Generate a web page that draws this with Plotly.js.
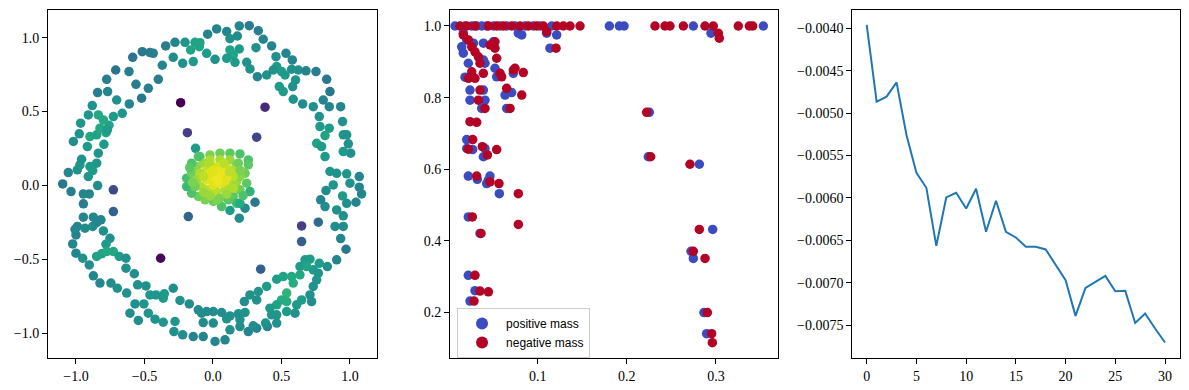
<!DOCTYPE html>
<html>
<head>
<meta charset="utf-8">
<script src="https://cdn.plot.ly/plotly-3.0.1.min.js"></script>
<style>html,body{margin:0;padding:0;background:#fff;}#chart{width:1189px;height:390px;}</style>
</head>
<body>
<div id="chart"></div>
<script>
// ---- Panel 1: ring / core / outliers (x, y, colour value) ----
const ringX = [0.027,-0.039,0.100,0.192,0.265,0.331,0.178,0.124,0.367,0.314,0.428,-0.095,-0.131,-0.204,-0.100,-0.163,-0.046,-0.144,-0.221,-0.277,-0.345,-0.290,-0.370,-0.436,-0.460,-0.516,-0.586,-0.399,-0.472,-0.521,-0.611,-0.613,-0.710,-0.776,-0.842,-0.769,-0.703,-0.562,-0.662,-0.881,0.015,0.124,0.192,0.148,0.100,0.161,0.246,0.270,0.324,0.392,0.460,0.533,0.579,0.465,0.501,0.440,0.526,0.484,0.513,0.582,0.603,0.574,0.623,0.679,0.752,0.830,0.854,0.805,0.732,0.655,0.586,0.849,0.932,0.776,0.946,0.849,0.951,0.988,1.005,0.951,0.976,0.781,0.818,0.757,0.793,0.818,0.854,0.903,0.976,1.068,1.0,1.068,1.085,1.044,0.976,0.946,0.878,0.825,0.786,0.818,0.903,0.951,0.891,0.951,0.932,0.971,0.903,0.835,0.776,0.708,0.672,0.635,0.732,0.769,0.757,0.732,0.708,0.720,0.647,0.599,0.538,0.465,0.397,0.319,0.258,0.197,0.124,0.088,0.015,-0.071,-0.144,-0.221,-0.285,-0.277,-0.363,-0.423,-0.472,-0.545,-0.606,-0.569,-0.504,-0.460,-0.363,-0.355,-0.290,-0.241,-0.173,-0.107,-0.046,0.002,0.063,0.124,0.185,0.234,0.229,0.270,0.331,0.319,0.392,0.465,0.513,0.574,0.635,0.684,0.586,0.538,0.501,0.465,0.416,0.428,0.538,0.611,-0.083,-0.071,0.002,0.100,0.197,0.294,0.384,0.465,-0.630,-0.698,-0.745,-0.825,-0.873,-0.903,-0.951,-1.0,-1.024,-1.0,-1.007,-0.990,-0.934,-0.878,-0.849,-0.800,-0.752,-0.781,-0.813,-0.849,-0.776,-0.727,-0.684,-0.635,-0.635,-0.574,-0.550,-0.489,-0.416,-0.946,-0.873,-0.818,-1.097,-1.036,-1.056,-0.990,-0.971,-0.959,-1.019,-0.976,-0.966,-0.910,-0.837,-0.800,-0.727,-0.759,-0.781,-0.796,-0.837,-0.849,-0.898,-0.910,-0.878,-0.946,-0.903,-0.842,-0.946,-0.917,-0.898,-0.849,-0.825,-0.771];
const ringY = [1.059,1.023,1.041,1.079,1.081,1.047,1.011,0.993,0.989,0.932,0.944,0.966,0.968,0.968,0.939,0.917,0.894,0.838,0.826,0.968,0.944,0.867,0.813,0.894,0.899,0.905,0.867,0.718,0.657,0.590,0.551,0.770,0.781,0.718,0.628,0.635,0.578,0.684,0.488,0.540,0.853,0.917,0.923,0.883,0.860,0.833,0.833,0.788,0.736,0.747,0.871,0.894,0.849,0.804,0.770,0.781,0.747,0.669,0.635,0.669,0.714,0.786,0.781,0.775,0.770,0.718,0.635,0.578,0.533,0.551,0.583,0.533,0.533,0.466,0.432,0.387,0.342,0.281,0.218,0.229,0.342,0.398,0.337,0.285,0.263,0.195,0.094,0.082,0.078,0.060,0.015,-0.012,-0.058,-0.114,-0.121,-0.071,0.003,-0.035,-0.098,-0.143,-0.166,-0.206,-0.278,-0.278,-0.360,-0.432,-0.504,-0.549,-0.527,-0.499,-0.504,-0.549,-0.571,-0.594,-0.639,-0.684,-0.741,-0.786,-0.775,-0.865,-0.854,-0.932,-0.955,-0.966,-0.989,-0.955,-0.977,-1.045,-1.056,-1.023,-1.023,-1.011,-0.989,-0.921,-0.926,-0.905,-0.865,-0.914,-0.865,-0.802,-0.802,-0.741,-0.763,-0.734,-0.696,-0.779,-0.802,-0.842,-0.854,-0.854,-0.860,-0.883,-0.869,-0.860,-0.786,-0.741,-0.718,-0.775,-0.684,-0.635,-0.617,-0.617,-0.605,-0.549,-0.661,-0.729,-0.775,-0.808,-0.831,-0.876,-0.786,-0.808,-0.865,-0.928,-0.932,-0.903,-0.910,-0.950,-0.932,-0.876,-0.729,-0.696,-0.661,-0.661,-0.612,-0.538,-0.493,-0.459,-0.396,-0.335,-0.297,-0.278,-0.290,-0.278,-0.252,-0.308,-0.358,-0.398,-0.463,-0.481,-0.448,-0.448,-0.481,-0.493,-0.560,-0.598,-0.673,-0.680,-0.741,-0.215,-0.215,-0.233,0.010,-0.042,0.087,0.105,0.139,0.177,0.297,0.349,0.421,0.477,0.477,0.443,0.466,0.407,0.357,0.278,0.218,0.150,0.127,0.060,0.100,-0.058,-0.058,-0.001,-0.125,0.263,0.330,0.342,0.387,0.375];
const ringC = [.45,.45,.45,.45,.42,.42,.48,.5,.45,.5,.45,.58,.58,.52,.58,.58,.55,.55,.5,.45,.42,.48,.45,.42,.42,.40,.38,.42,.42,.40,.45,.42,.38,.42,.42,.45,.5,.42,.52,.5,.5,.58,.55,.58,.55,.55,.5,.5,.45,.5,.5,.45,.45,.55,.55,.5,.55,.55,.55,.5,.52,.5,.5,.45,.42,.4,.4,.45,.5,.48,.5,.45,.45,.5,.5,.55,.52,.5,.48,.55,.5,.55,.58,.58,.55,.55,.52,.5,.52,.45,.5,.45,.45,.45,.5,.55,.52,.48,.45,.48,.5,.5,.48,.48,.45,.4,.45,.5,.55,.55,.55,.55,.55,.52,.52,.5,.5,.48,.55,.5,.55,.5,.45,.45,.45,.48,.5,.45,.45,.45,.45,.48,.5,.52,.52,.52,.52,.48,.48,.5,.52,.52,.55,.55,.48,.5,.48,.48,.48,.48,.48,.5,.5,.5,.48,.5,.52,.5,.55,.55,.58,.6,.6,.58,.62,.65,.62,.58,.55,.52,.62,.55,.48,.48,.48,.5,.5,.48,.5,.52,.5,.5,.48,.45,.45,.48,.5,.45,.45,.45,.45,.45,.48,.48,.45,.5,.5,.55,.58,.58,.6,.6,.55,.5,.5,.48,.5,.5,.52,.45,.45,.45,.4,.42,.45,.5,.52,.5,.48,.5,.52,.52,.6,.6,.55,.58,.58,.55,.52,.52,.55,.52,.55,.45,.45,.48,.42,.55,.6,.58,.6,.55];

const outX = [-0.236,0.380,-0.187,0.319,-0.727,-0.727,-0.180,-0.382,0.348,0.647,0.647,0.769,0.307,0.234,0.192,0.124,-0.127];
const outY = [0.560,0.529,0.357,0.326,-0.030,-0.177,-0.211,-0.493,-0.567,-0.274,-0.380,-0.249,-0.114,-0.154,-0.222,-0.170,0.251];
const outC = [0.0,0.12,0.18,0.2,0.22,0.3,0.32,0.02,0.3,0.18,0.3,0.35,0.4,0.48,0.48,0.55,0.55];

const coreX = [-0.095,-0.022,0.051,0.124,0.197,0.258,0.258,0.234,0.246,0.270,0.197,0.148,0.173,0.063,0.002,-0.058,-0.107,-0.156,-0.192,-0.192,-0.156,-0.119,-0.071,-0.022,0.051,0.124,0.173,0.148,0.100,0.051,0.002,-0.046,-0.095,-0.119,-0.083,-0.034,0.027,0.088,0.124,0.173,0.197,0.148,0.100,0.051,0.002,-0.046,0.002,0.063,0.027,0.080,-0.022,-0.066,0.051,0.112,0.185,-0.131,-0.107,-0.156,0.197,0.220,-0.170,0.030,-0.150,0.200,0.100,-0.020,0.150,-0.030,0.080,0.120,-0.070,0.090,0.040,0.000];
const coreY = [0.195,0.206,0.218,0.218,0.213,0.172,0.139,0.082,0.015,-0.042,-0.030,-0.075,-0.121,-0.143,-0.109,-0.098,-0.075,-0.053,-0.008,0.049,0.082,0.127,0.150,0.172,0.172,0.172,0.139,0.105,0.116,0.127,0.127,0.105,0.082,0.037,-0.008,-0.030,-0.042,-0.030,0.003,0.026,0.060,0.060,0.060,0.060,0.060,0.037,0.003,0.015,0.094,0.082,0.082,-0.048,-0.087,-0.098,0.150,-0.008,0.195,0.150,-0.121,-0.070,0.120,-0.100,0.020,0.100,-0.060,-0.070,-0.020,0.150,0.150,0.090,0.060,0.030,0.030,0.100];
const coreC = [.75,.8,.78,.75,.72,.72,.75,.78,.75,.65,.78,.75,.68,.72,.78,.8,.78,.72,.68,.7,.78,.82,.85,.88,.88,.85,.82,.88,.92,.95,.93,.92,.88,.85,.88,.9,.9,.88,.88,.85,.82,.9,.98,1.0,.98,.95,.95,.95,.97,.97,.95,.85,.8,.75,.78,.78,.72,.72,.62,.72,.75,.8,.8,.8,.85,.85,.88,.88,.9,.9,.9,.95,.98,.95];

// ---- Panel 2: positive / negative mass ----
const posX = [0.0073,0.0185,0.0260,0.0316,0.0372,0.0428,0.0503,0.0578,0.0652,0.0746,0.0858,0.0951,0.1026,0.1157,0.1804,0.1916,0.1969,0.2746,0.3531,0.0166,0.0204,0.0148,0.0166,0.0279,0.0391,0.0222,0.0185,0.0241,0.0241,0.0391,0.0409,0.0391,0.0409,0.0521,0.0540,0.0503,0.0372,0.0652,0.0634,0.0708,0.0727,0.0821,0.1101,0.1213,0.1138,0.0204,0.0204,0.0271,0.0409,0.0222,0.0323,0.0428,0.0465,0.0447,0.0570,0.0222,0.0353,0.0222,0.0297,0.0241,0.0391,0.2252,0.2241,0.2813,0.2720,0.2746,0.2963,0.2865,0.2895,0.2944,0.0783];
const posY = [1.0,1.0,1.0,1.0,1.0,1.0,1.0,1.0,1.0,1.0,1.0,1.0,1.0,1.0,1.0,1.0,1.0,1.0,1.0,0.980,0.961,0.942,0.924,0.952,0.952,0.896,0.857,0.821,0.793,0.905,0.896,0.821,0.793,0.882,0.858,0.956,0.770,0.770,0.807,0.814,0.868,0.975,0.980,0.975,0.938,0.683,0.658,0.655,0.658,0.581,0.572,0.560,0.581,0.570,0.532,0.467,0.421,0.304,0.261,0.232,0.635,0.759,0.635,0.614,0.371,0.351,0.432,0.200,0.141,0.980,0.980];
const negX = [0.0129,0.0204,0.0297,0.0447,0.0540,0.0615,0.0708,0.0802,0.0895,0.0989,0.1064,0.1213,0.1288,0.1363,0.1475,0.2316,0.2428,0.2484,0.2634,0.2877,0.2970,0.3250,0.3374,0.3411,0.0166,0.0222,0.0260,0.0297,0.0335,0.0353,0.0260,0.0222,0.0297,0.0391,0.0465,0.0521,0.0540,0.0578,0.0596,0.0521,0.0353,0.0335,0.0409,0.0652,0.0746,0.0839,0.0821,0.0690,0.0241,0.0316,0.0271,0.0222,0.0379,0.0436,0.0540,0.0316,0.0465,0.0566,0.0783,0.0783,0.0267,0.0364,0.0297,0.0353,0.0447,0.0286,0.2222,0.2267,0.2708,0.2813,0.2746,0.2877,0.2903,0.2951,0.2959,0.3026,0.3037,0.1206,0.1101,0.0727];
const negY = [1.0,1.0,1.0,1.0,1.0,1.0,1.0,1.0,1.0,1.0,1.0,1.0,1.0,1.0,1.0,1.0,1.0,1.0,1.0,1.0,1.0,1.0,1.0,1.0,0.975,0.961,0.942,0.928,0.914,0.896,0.872,0.854,0.854,0.868,0.947,0.938,0.910,0.868,0.858,0.956,0.821,0.793,0.770,0.826,0.882,0.870,0.807,0.770,0.733,0.731,0.683,0.656,0.663,0.640,0.655,0.581,0.565,0.560,0.532,0.446,0.467,0.421,0.304,0.260,0.258,0.232,0.759,0.635,0.614,0.432,0.371,0.351,0.200,0.141,0.116,0.980,0.966,0.938,0.984,0.877];

// ---- Panel 3: line ----
const stepX = [0,1,2,3,4,5,6,7,8,9,10,11,12,13,14,15,16,17,18,19,20,21,22,23,24,25,26,27,28,29,30];
const stepY = [-0.00396,-0.004865,-0.004806,-0.004637,-0.005258,-0.005703,-0.005880,-0.006564,-0.005994,-0.005939,-0.006124,-0.005892,-0.006399,-0.006033,-0.006399,-0.006466,-0.006576,-0.006576,-0.006607,-0.006792,-0.006969,-0.007390,-0.007060,-0.006989,-0.006918,-0.007099,-0.007095,-0.007473,-0.007362,-0.007539,-0.007704];

const legendLabels = ['positive mass', 'negative mass'];

const tickFont = {family: '"Liberation Serif", "DejaVu Serif", serif', size: 14, color: '#000'};
function ax(extra) {
  return Object.assign({
    showline: true, mirror: true, linecolor: '#000', linewidth: 1,
    ticks: 'outside', ticklen: 5, tickwidth: 1, tickcolor: '#000',
    showgrid: false, zeroline: false, tickfont: tickFont
  }, extra);
}

const p1X = ringX.concat(outX, coreX);
const p1Y = ringY.concat(outY, coreY);
const p1C = ringC.concat(outC, coreC);

const traces = [
  {type: 'scatter', mode: 'markers', x: p1X, y: p1Y, xaxis: 'x', yaxis: 'y', showlegend: false,
   marker: {size: 9.5, color: p1C, colorscale: 'Viridis', cmin: 0, cmax: 1, line: {width: 0}}},
  {type: 'scatter', mode: 'markers', x: posX, y: posY, xaxis: 'x2', yaxis: 'y2', name: legendLabels[0],
   marker: {size: 9.5, color: '#3b4cc0', line: {width: 0}}},
  {type: 'scatter', mode: 'markers', x: negX, y: negY, xaxis: 'x2', yaxis: 'y2', name: legendLabels[1],
   marker: {size: 9.5, color: '#b40426', line: {width: 0}}},
  {type: 'scatter', mode: 'lines', x: stepX, y: stepY, xaxis: 'x3', yaxis: 'y3', showlegend: false,
   line: {color: '#1f77b4', width: 2}}
];

const yd = [0.0813, 0.9744];
const layout = {
  width: 1189, height: 390,
  margin: {l: 0, r: 0, t: 0, b: 0},
  paper_bgcolor: '#fff', plot_bgcolor: '#fff',
  showlegend: true,
  legend: {x: 0.3844, y: 0.2103, xanchor: 'left', yanchor: 'top',
    bgcolor: 'rgba(255,255,255,0.8)', bordercolor: '#cccccc', borderwidth: 1,
    font: {family: '"Liberation Sans", "DejaVu Sans", sans-serif', size: 12, color: '#000'},
    itemsizing: 'constant', itemwidth: 38, tracegroupgap: 0},
  xaxis: ax({domain: [0.0404, 0.3168], range: [-1.204, 1.195], tickvals: [-1, -0.5, 0, 0.5, 1], tickformat: '.1f', anchor: 'y'}),
  yaxis: ax({domain: yd, range: [-1.17, 1.187], tickvals: [-1, -0.5, 0, 0.5, 1], tickformat: '.1f', anchor: 'x'}),
  xaxis2: ax({domain: [0.3785, 0.6543], range: [0.0017, 0.3695], tickvals: [0.1, 0.2, 0.3], tickformat: '.1f', anchor: 'y2'}),
  yaxis2: ax({domain: yd, range: [0.0723, 1.0447], tickvals: [0.2, 0.4, 0.6, 0.8, 1.0], tickformat: '.1f', anchor: 'x2'}),
  xaxis3: ax({domain: [0.7168, 0.9924], range: [-1.45, 31.5], tickvals: [0, 5, 10, 15, 20, 25, 30], anchor: 'y3'}),
  yaxis3: ax({domain: yd, range: [-0.00789, -0.003784], tickvals: [-0.004, -0.0045, -0.005, -0.0055, -0.006, -0.0065, -0.007, -0.0075], tickformat: '.4f', anchor: 'x3'})
};

Plotly.newPlot('chart', traces, layout, {displayModeBar: false, staticPlot: true});
</script>
</body>
</html>
